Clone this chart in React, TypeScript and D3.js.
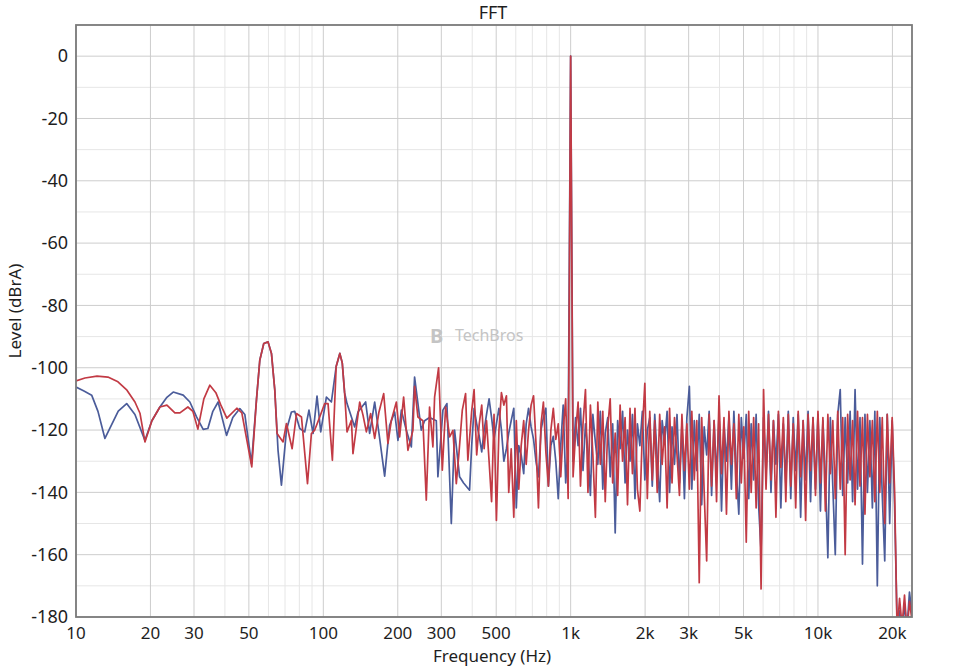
import React from "react";
import * as d3 from "d3";

// FFT of a 1 kHz tone, two channels (blue = left, red = right)

const xTicks = [10, 20, 30, 50, 100, 200, 300, 500, 1000, 2000, 3000, 5000, 10000, 20000];
const xTickLabels = ["10", "20", "30", "50", "100", "200", "300", "500", "1k", "2k", "3k", "5k", "10k", "20k"];
const xMinor = [40, 60, 70, 80, 90, 400, 600, 700, 800, 900, 4000, 6000, 7000, 8000, 9000];
const yTicks = [0, -20, -40, -60, -80, -100, -120, -140, -160, -180];
const yMinor = [-10, -30, -50, -70, -90, -110, -130, -150, -170];

// low frequency part, [Hz, dBrA]
const blueLow = [
  [10, -106.2], [10.77, -107.5], [11.57, -108.8], [12.27, -114], [13.09, -122.7], [14.82, -113.9],
  [16.03, -111.5], [17.31, -115], [19.0, -123.3], [20.27, -117], [21.84, -112.6], [23.31, -109.5],
  [24.72, -107.8], [27.13, -108.8], [28.87, -111], [30.72, -115.8], [32.67, -119.8], [34.13, -119.5],
  [35.75, -114], [37.56, -111], [40.62, -121.7], [43.05, -116], [45.96, -113.1], [48.15, -115],
  [51.23, -130.8], [53.7, -110], [55.35, -97.6], [57.44, -92.2], [59.78, -91.7], [61.7, -95.4],
  [63.65, -107.2], [65.6, -126.5], [67.7, -137.7], [70.95, -120], [74.3, -114.2], [76.6, -114],
  [80.3, -119.5], [84.1, -120.6], [87.5, -113.6], [90.9, -121.1], [94.3, -109.1], [97.6, -120.6],
  [102.9, -109.4], [107.8, -111], [112.7, -99.6], [116.6, -95.4], [119.3, -98.5], [121.9, -108],
  [124.7, -111.5], [133.9, -119], [138.1, -114.2], [148.3, -111], [153.9, -121.1], [161.3, -111],
  [167.9, -121.1], [177, -134.8], [185.4, -118.5], [194.3, -114.2], [200.3, -123.3], [206.8, -113.6],
  [216.6, -120.1], [226.9, -125.4], [233.9, -103], [248.9, -120], [256.7, -117], [268.9, -116],
  [286.3, -117], [290.6, -135], [304.5, -113.6], [316, -111.5], [329.2, -150], [339.4, -120],
  [355.6, -135], [369.1, -137], [390.2, -139.3],
];

const redLow = [
  [10, -104.2], [10.87, -103.3], [12.16, -102.7], [13.46, -103], [14.78, -104.5], [16.07, -107.2],
  [17.31, -111], [18.14, -114.6], [19.0, -123.8], [20.27, -117], [21.84, -112.6], [23.31, -112],
  [25.11, -114.5], [26.31, -114.5], [28.34, -112.6], [29.69, -114], [31.1, -119.7], [32.88, -110],
  [34.77, -105.6], [36.77, -108], [38.52, -112], [40.73, -116.2], [44.7, -113], [46.83, -114.5],
  [51.37, -131.8], [53.7, -110], [55.35, -97.6], [57.44, -92.2], [59.78, -91.7], [61.7, -95.4],
  [63.65, -107.2], [65.0, -121.1], [68.75, -123.8], [70.95, -117.9], [74.8, -126], [77.9, -114.7],
  [81.6, -115.8], [86.3, -137.2], [89.5, -121.1], [92.3, -120], [96.7, -115.8], [101.3, -111.5],
  [104.5, -111.5], [108.8, -129.7], [112.7, -99.6], [116.6, -95.4], [119.3, -98.5], [121.9, -108],
  [124.7, -120.6], [129.9, -116.9], [131.8, -127.6], [140.3, -111], [144.7, -115.2], [149.3, -120.6],
  [155.4, -114.7], [161.3, -122.7], [167.9, -114.2], [175.4, -108.3], [182.5, -124.3], [188.4, -116.9],
  [197.4, -111], [203.5, -122.2], [211.2, -109.4], [219.8, -126.5], [230.3, -120.1], [233.9, -106],
  [241.2, -115.8], [252.7, -117], [260.8, -142.5], [268.9, -112.6], [277.4, -125.4], [281.8, -109.4],
  [292.5, -100], [302.8, -132.9], [312.2, -112.6], [324.1, -122.2], [334.2, -120.1], [344.9, -137.2],
  [353.4, -127.6], [364.7, -113.6], [376, -108.3], [384.1, -129.7],
];

// dense part, shared frequency bins (Hz)
const denseFreqs = [
  398, 407, 417, 427, 437, 447, 457, 468, 479, 490,
  501, 513, 525, 537, 550, 562, 575, 589, 603, 617,
  631, 646, 661, 676, 692, 708, 724, 741, 759, 776,
  794, 813, 832, 851, 871, 891, 912, 933, 955, 977,
  1000,
  1023, 1047, 1072, 1096, 1122, 1148, 1175, 1202, 1230, 1259,
  1288, 1318, 1349, 1380, 1413, 1445, 1479, 1514, 1549, 1585,
  1622, 1660, 1698, 1738, 1778, 1820, 1862, 1905, 1950, 1995,
  2042, 2089, 2138, 2188, 2239, 2291, 2344, 2399, 2455, 2512,
  2570, 2630, 2692, 2754, 2818, 2884, 2951, 3020, 3090, 3162,
  3236, 3311, 3388, 3467, 3548, 3631, 3715, 3802, 3890, 3981,
  4074, 4169, 4266, 4365, 4467, 4571, 4677, 4786, 4898, 5012,
  5129, 5248, 5370, 5495, 5623, 5754, 5888, 6026, 6166, 6310,
  6457, 6607, 6761, 6918, 7079, 7244, 7413, 7586, 7762, 7943,
  8128, 8318, 8511, 8710, 8913, 9120, 9333, 9550, 9772, 10000,
  10233, 10471, 10715, 10965, 11220, 11482, 11749, 12023, 12303, 12589,
  12882, 13183, 13490, 13804, 14125, 14454, 14791, 15136, 15488, 15849,
  16218, 16596, 16982, 17378, 17783, 18197, 18621, 19055, 19498, 19953,
  20417, 20893, 21380, 21878, 22387, 22909, 23442, 23988,
];

const blueDense = [
  -125, -113, -118, -122, -127, -120, -115, -110, -116, -123,
  -118, -113, -120, -130, -126, -121, -117, -113, -145, -125,
  -128, -134, -118, -113, -119, -123, -130, -135, -120, -116,
  -113, -138, -125, -122, -130, -142, -125, -112, -137, -125,
  0,
  -130, -116, -125, -113, -133, -118, -127, -141, -115, -124,
  -131, -114, -139, -121, -116, -135, -118, -153, -117, -126,
  -114, -137, -120, -130, -115, -142, -118, -125, -114, -136,
  -120, -116, -138, -115, -129, -143, -117, -124, -114, -140,
  -119, -131, -115, -137, -118, -142, -116, -106, -139, -117,
  -133, -115, -144, -119, -128, -114, -141, -117, -135, -115,
  -146, -118, -130, -116, -139, -114, -133, -147, -116, -129,
  -115, -142, -118, -136, -115, -144, -159, -116, -134, -114,
  -140, -117, -131, -115, -145, -118, -137, -114, -142, -116,
  -133, -115, -148, -117, -136, -114, -143, -116, -139, -115,
  -146, -117, -135, -161, -116, -138, -160, -115, -107, -141,
  -116, -137, -114, -143, -107, -139, -116, -163, -115, -140,
  -117, -145, -114, -170, -116, -141, -162, -115, -150, -117,
  -145, -182, -178, -185, -176, -184, -172, -179,
];

const redDense = [
  -114, -107, -128, -118, -112, -126, -117, -130, -143, -115,
  -149, -120, -108, -112, -109, -140, -126, -148, -117, -139,
  -125, -117, -131, -120, -112, -109, -124, -145, -118, -111,
  -127, -138, -120, -113, -123, -118, -135, -120, -110, -142,
  0,
  -135, -121, -111, -138, -118, -107, -140, -112, -128, -148,
  -111, -131, -114, -143, -119, -110, -137, -121, -141, -112,
  -130, -116, -144, -113, -134, -113, -139, -146, -120, -105,
  -142, -114, -136, -117, -140, -115, -131, -119, -145, -113,
  -137, -116, -128, -141, -115, -133, -118, -139, -114, -136,
  -117, -169, -116, -140, -162, -115, -138, -117, -143, -109,
  -134, -116, -147, -114, -131, -118, -142, -115, -137, -119,
  -156, -114, -140, -116, -145, -118, -171, -107, -139, -115,
  -136, -117, -148, -114, -132, -116, -143, -115, -138, -118,
  -145, -114, -135, -117, -149, -115, -133, -116, -141, -114,
  -137, -116, -146, -115, -134, -117, -142, -114, -139, -116,
  -160, -115, -136, -117, -144, -114, -138, -116, -147, -115,
  -135, -117, -143, -114, -140, -116, -150, -115, -137, -116,
  -140, -185, -174, -183, -173, -185, -175, -181,
];

const blueData = blueLow.concat(denseFreqs.map((f, i) => [f, blueDense[i]]));
const redData = redLow.concat(denseFreqs.map((f, i) => [f, redDense[i]]));

const width = 955;
const height = 668;
const left = 76, right = 912, top = 25, bottom = 617;
const font = "'Noto Sans', 'Open Sans', sans-serif";

export default function App() {
  const x = d3.scaleLog().domain([10, 24000]).range([left, right]);
  const y = d3.scaleLinear().domain([-180, 10]).range([bottom, top]);
  const line = d3.line().x((d) => x(d[0])).y((d) => y(d[1]));

  return (
    <svg
      width={width}
      height={height}
      viewBox={`0 0 ${width} ${height}`}
      style={{ position: "absolute", left: 0, top: 0, background: "#fff", fontFamily: font }}
    >
      <defs>
        <clipPath id="plot">
          <rect x={left} y={top} width={right - left} height={bottom - top} />
        </clipPath>
      </defs>
      <rect width={width} height={height} fill="#fff" />

      {/* grid */}
      {yMinor.map((v) => (
        <line key={"ym" + v} x1={left} x2={right} y1={y(v)} y2={y(v)} stroke="#e6e6e6" strokeWidth={1} />
      ))}
      {xMinor.map((v) => (
        <line key={"xm" + v} x1={x(v)} x2={x(v)} y1={top} y2={bottom} stroke="#e6e6e6" strokeWidth={1} />
      ))}
      {yTicks.map((v) => (
        <line key={"y" + v} x1={left} x2={right} y1={y(v)} y2={y(v)} stroke="#cdcdcd" strokeWidth={1} />
      ))}
      {xTicks.map((v) => (
        <line key={"x" + v} x1={x(v)} x2={x(v)} y1={top} y2={bottom} stroke="#cdcdcd" strokeWidth={1} />
      ))}

      {/* watermark */}
      <g fill="#c4c4c4">
        <text x={430} y={343} fontSize={20} fontWeight={700}>B</text>
        <text x={455} y={341} fontSize={16}>TechBros</text>
      </g>

      {/* traces */}
      <g clipPath="url(#plot)" fill="none" strokeLinejoin="round">
        <path d={line(blueData)} stroke="#4b5c9a" strokeWidth={1.7} />
        <path d={line(redData)} stroke="#c23a44" strokeWidth={1.7} />
      </g>

      <rect x={left} y={top} width={right - left} height={bottom - top} fill="none" stroke="#7a7a7a" strokeWidth={1.8} />

      {/* y axis labels */}
      {yTicks.map((v) => (
        <text key={"yl" + v} x={68} y={y(v)} dy="0.35em" textAnchor="end" fontSize={18} fill="#1e1e1e">
          {v}
        </text>
      ))}
      {/* x axis labels */}
      {xTicks.map((v, i) => (
        <text key={"xl" + v} x={x(v)} y={639} textAnchor="middle" fontSize={17} fill="#1e1e1e">
          {xTickLabels[i]}
        </text>
      ))}

      <text x={492} y={662} textAnchor="middle" fontSize={17} fill="#1e1e1e">Frequency (Hz)</text>
      <text transform="translate(21,311) rotate(-90)" textAnchor="middle" fontSize={17} fill="#1e1e1e">
        Level (dBrA)
      </text>
      <text x={493} y={19} textAnchor="middle" fontSize={18} fill="#1e1e1e">FFT</text>
    </svg>
  );
}
